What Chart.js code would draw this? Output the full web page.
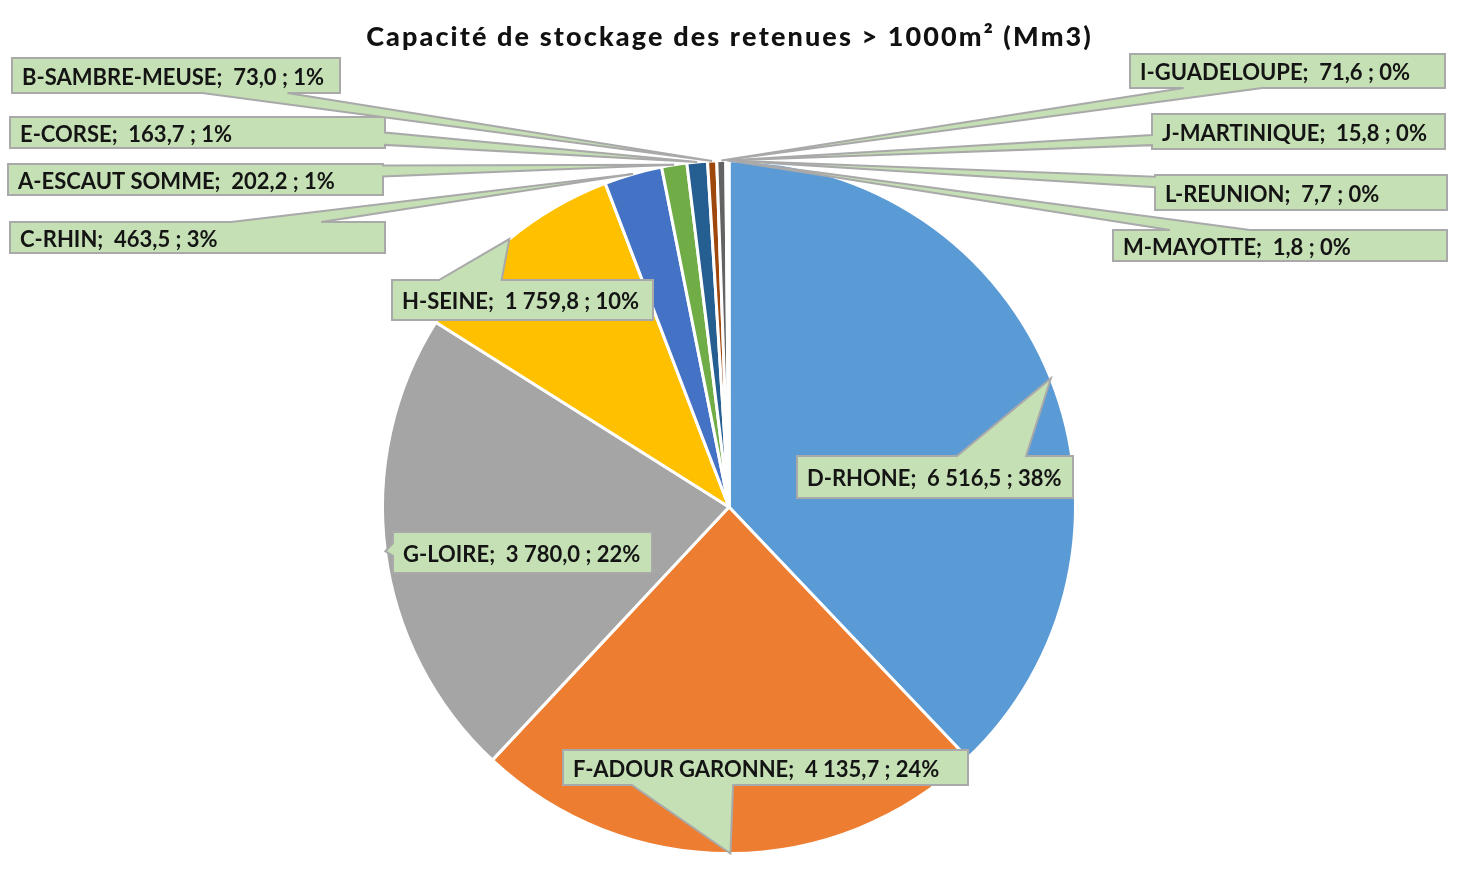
<!DOCTYPE html>
<html><head><meta charset="utf-8">
<script src="https://cdn.jsdelivr.net/npm/chart.js@4.4.1/dist/chart.umd.min.js"></script>
<style>html,body{margin:0;padding:0;background:#fff;} #wrap{width:1462px;height:894px;}</style>
</head><body><div id="wrap"><canvas id="c" width="1462" height="894"></canvas></div>
<script>
const categories = ['D-RHONE','F-ADOUR GARONNE','G-LOIRE','H-SEINE','C-RHIN','A-ESCAUT SOMME','E-CORSE','B-SAMBRE-MEUSE','I-GUADELOUPE','J-MARTINIQUE','L-REUNION','M-MAYOTTE'];
const capacities = [6516.5, 4135.7, 3780.0, 1759.8, 463.5, 202.2, 163.7, 73.0, 71.6, 15.8, 7.7, 1.8];
const percentLabels = [38, 24, 22, 10, 3, 1, 1, 1, 0, 0, 0, 0];
const sliceColors = ['#5B9BD5','#ED7D31','#A5A5A5','#FFC000','#4472C4','#70AD47','#255E91','#9E480E','#636363','#997300','#264478','#43682B'];
const titleText = 'Capacité de stockage des retenues > 1000m² (Mm3)';

// callout box layout (label placement only)
const calloutLayout = [
 {x:797,y:456,w:276,h:42,side:'top',a:0.58,b:0.83},
 {x:563,y:750,w:405,h:35,side:'bottom',a:0.17,b:0.42},
 {x:393,y:532,w:259,h:41,side:'left',a:0.27,b:0.58},
 {x:392,y:280,w:261,h:40,side:'top',a:0.18,b:0.42},
 {x:10,y:222,w:375,h:31,side:'top',a:0.59,b:0.83},
 {x:8,y:164,w:375,h:31,side:'right',a:0.05,b:0.40},
 {x:10,y:117,w:375,h:31,side:'right',a:0.50,b:0.90},
 {x:12,y:58,w:328,h:35,side:'bottom',a:0.58,b:0.84},
 {x:1130,y:54,w:315,h:34,side:'bottom',a:0.17,b:0.42},
 {x:1152,y:114,w:293,h:35,side:'left',a:0.60,b:0.89},
 {x:1155,y:175,w:292,h:35,side:'left',a:0.05,b:0.35},
 {x:1113,y:230,w:334,h:31,side:'top',a:0.17,b:0.41}
];

function fmtFr(v){
  const s = v.toFixed(1).split('.');
  const int = s[0].replace(/\B(?=(\d{3})+(?!\d))/g, ' ');
  return int + ',' + s[1];
}

const titlePlugin = {
  id:'excelTitle',
  afterDraw(chart){
    const ctx = chart.ctx;
    ctx.save();
    ctx.font = '900 27px Lato';
    ctx.fillStyle = '#111111';
    ctx.textAlign = 'left';
    ctx.textBaseline = 'alphabetic';
    const spacing = 2.1;
    const chars = Array.from(titleText);
    const widths = chars.map(c => ctx.measureText(c).width);
    const total = widths.reduce((s,w)=>s+w,0) + spacing*(chars.length-1);
    let x = 728.5 - total/2;
    chars.forEach((c,i) => { ctx.fillText(c, x, 46); x += widths[i] + spacing; });
    ctx.restore();
  }
};

const calloutPlugin = {
  id:'callouts',
  afterDatasetsDraw(chart){
    const ctx = chart.ctx;
    const meta = chart.getDatasetMeta(0);
    ctx.save();
    meta.data.forEach((arc, i) => {
      const L = calloutLayout[i];
      if(!L) return;
      const p = arc.getProps(['x','y','startAngle','endAngle','outerRadius'], true);
      const mid = (p.startAngle + p.endAngle)/2;
      const tx = p.x + Math.cos(mid)*p.outerRadius;
      const ty = p.y + Math.sin(mid)*p.outerRadius;
      const {x,y,w,h,side,a,b} = L;
      ctx.beginPath();
      ctx.moveTo(x,y);
      if(side==='top'){ ctx.lineTo(x+a*w,y); ctx.lineTo(tx,ty); ctx.lineTo(x+b*w,y); }
      ctx.lineTo(x+w,y);
      if(side==='right'){ ctx.lineTo(x+w,y+a*h); ctx.lineTo(tx,ty); ctx.lineTo(x+w,y+b*h); }
      ctx.lineTo(x+w,y+h);
      if(side==='bottom'){ ctx.lineTo(x+b*w,y+h); ctx.lineTo(tx,ty); ctx.lineTo(x+a*w,y+h); }
      ctx.lineTo(x,y+h);
      if(side==='left'){ ctx.lineTo(x,y+b*h); ctx.lineTo(tx,ty); ctx.lineTo(x,y+a*h); }
      ctx.closePath();
      ctx.fillStyle = '#C5E0B4';
      ctx.fill();
      ctx.lineWidth = 2;
      ctx.strokeStyle = '#A9A9A9';
      ctx.lineJoin = 'miter';
      ctx.stroke();
      const txt = categories[i] + ';  ' + fmtFr(capacities[i]) + ' ; ' + percentLabels[i] + '%';
      ctx.fillStyle = '#141414';
      ctx.font = 'bold 22px Lato';
      ctx.textBaseline = 'alphabetic';
      ctx.textAlign = 'left';
      ctx.fillText(txt, x+10, y+h/2+9);
    });
    ctx.restore();
  }
};

new Chart(document.getElementById('c'), {
  type:'pie',
  data:{
    labels: categories,
    datasets:[{ data: capacities, backgroundColor: sliceColors, borderColor:'#FFFFFF', borderWidth:3 }]
  },
  options:{
    responsive:false,
    animation:false,
    layout:{ padding:{ top:159, bottom:39, left:381, right:385 } },
    plugins:{
      legend:{ display:false },
      tooltip:{ enabled:false },
      title:{ display:false }
    }
  },
  plugins:[calloutPlugin, titlePlugin]
});
</script>
</body></html>
